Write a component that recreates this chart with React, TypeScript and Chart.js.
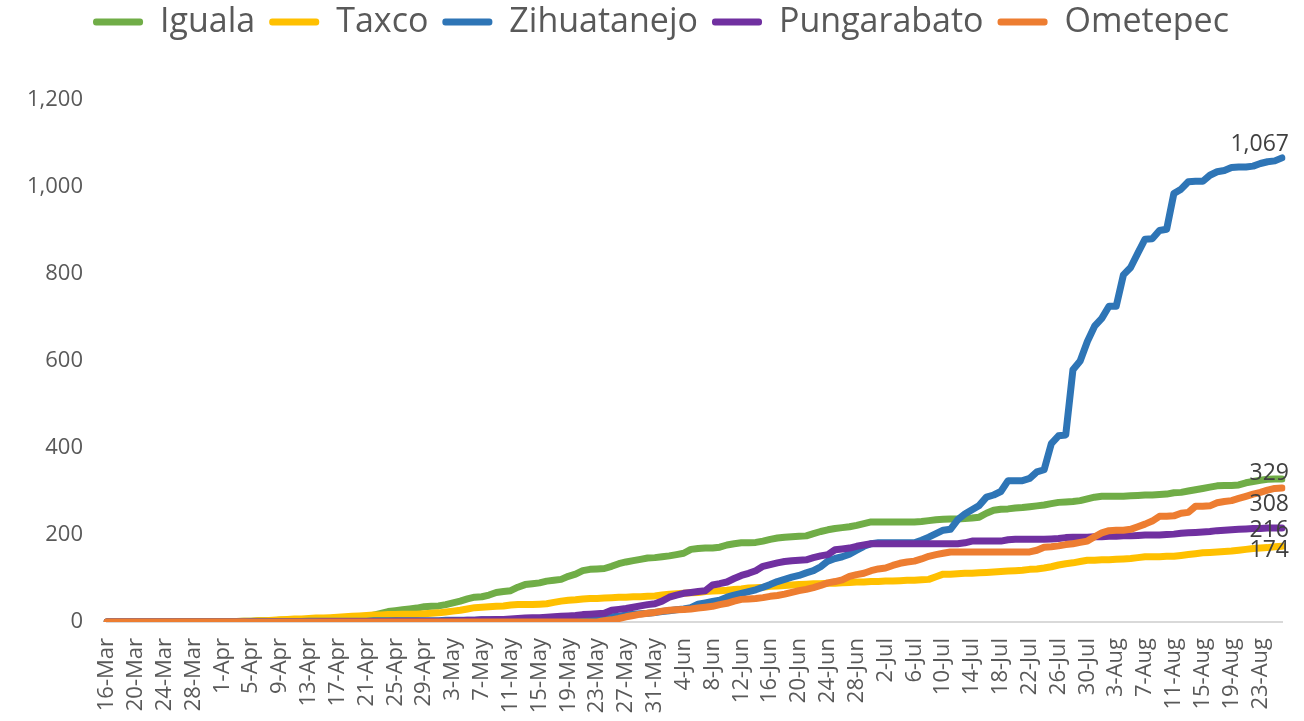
import React, { useEffect, useRef } from "react";
import { Chart, registerables } from "chart.js";

Chart.register(...registerables);

const dates = [
  "16-Mar","17-Mar","18-Mar","19-Mar","20-Mar","21-Mar","22-Mar","23-Mar","24-Mar","25-Mar","26-Mar","27-Mar","28-Mar","29-Mar","30-Mar","31-Mar",
  "1-Apr","2-Apr","3-Apr","4-Apr","5-Apr","6-Apr","7-Apr","8-Apr","9-Apr","10-Apr","11-Apr","12-Apr","13-Apr","14-Apr","15-Apr","16-Apr","17-Apr","18-Apr","19-Apr","20-Apr","21-Apr","22-Apr","23-Apr","24-Apr","25-Apr","26-Apr","27-Apr","28-Apr","29-Apr","30-Apr",
  "1-May","2-May","3-May","4-May","5-May","6-May","7-May","8-May","9-May","10-May","11-May","12-May","13-May","14-May","15-May","16-May","17-May","18-May","19-May","20-May","21-May","22-May","23-May","24-May","25-May","26-May","27-May","28-May","29-May","30-May","31-May",
  "1-Jun","2-Jun","3-Jun","4-Jun","5-Jun","6-Jun","7-Jun","8-Jun","9-Jun","10-Jun","11-Jun","12-Jun","13-Jun","14-Jun","15-Jun","16-Jun","17-Jun","18-Jun","19-Jun","20-Jun","21-Jun","22-Jun","23-Jun","24-Jun","25-Jun","26-Jun","27-Jun","28-Jun","29-Jun","30-Jun",
  "1-Jul","2-Jul","3-Jul","4-Jul","5-Jul","6-Jul","7-Jul","8-Jul","9-Jul","10-Jul","11-Jul","12-Jul","13-Jul","14-Jul","15-Jul","16-Jul","17-Jul","18-Jul","19-Jul","20-Jul","21-Jul","22-Jul","23-Jul","24-Jul","25-Jul","26-Jul","27-Jul","28-Jul","29-Jul","30-Jul","31-Jul",
  "1-Aug","2-Aug","3-Aug","4-Aug","5-Aug","6-Aug","7-Aug","8-Aug","9-Aug","10-Aug","11-Aug","12-Aug","13-Aug","14-Aug","15-Aug","16-Aug","17-Aug","18-Aug","19-Aug","20-Aug","21-Aug","22-Aug","23-Aug","24-Aug","25-Aug","26-Aug"
];

const iguala = [
  0,0,0,0,0,0,0,0,0,0,0,1,1,1,1,1,
  1,1,1,2,2,3,3,3,4,4,5,5,6,6,7,8,9,9,10,11,12,16,20,24,26,28,30,32,35,36,
  37,40,44,48,53,57,58,62,68,70,72,80,86,88,90,94,96,98,105,110,118,121,122,123,128,134,138,141,144,147,148,
  150,152,155,158,167,169,170,170,172,177,180,182,182,183,186,190,193,195,196,197,198,203,208,212,215,217,219,222,226,230,
  230,230,230,230,230,230,231,233,235,236,237,237,238,239,241,250,257,259,260,262,263,265,267,269,272,275,276,277,279,283,287,
  289,289,289,289,290,291,292,292,293,294,297,298,301,304,307,310,313,314,314,315,320,323,326,328,329,329
];

const taxco = [
  0,0,0,0,0,0,0,0,0,0,1,1,1,1,1,1,
  1,1,1,2,2,3,3,4,5,6,7,7,8,9,9,10,11,12,13,14,15,16,16,17,17,18,18,18,19,20,
  21,23,25,27,30,33,34,35,36,37,39,40,40,40,41,42,45,48,50,51,53,54,54,55,56,57,57,58,58,59,60,
  62,64,65,66,67,68,70,71,72,73,75,76,78,79,80,82,83,84,85,86,87,88,88,89,89,90,91,92,92,93,
  93,94,94,95,96,96,97,98,104,110,110,111,112,112,113,114,115,116,117,118,119,121,122,124,127,131,134,136,139,142,142,
  143,143,144,145,146,148,150,150,150,151,151,153,155,157,159,160,161,162,163,165,167,169,170,171,173,174
];

const zihuatanejo = [
  0,0,0,0,0,0,0,0,0,0,0,0,0,0,0,0,
  0,0,0,0,1,1,1,1,1,1,1,1,2,2,2,2,2,2,2,2,2,3,3,3,3,3,3,3,3,3,
  3,4,4,4,4,4,5,5,5,5,5,5,5,5,5,6,6,7,8,8,9,10,11,12,12,13,16,18,19,20,22,
  24,26,28,30,33,41,44,47,50,57,62,66,70,74,80,86,93,98,103,107,113,118,127,140,146,150,156,165,174,180,
  182,182,182,182,182,182,188,195,203,211,213,235,248,258,268,287,292,300,325,325,325,330,345,350,410,428,430,580,600,645,680,
  698,726,726,798,815,848,880,881,900,903,985,995,1012,1013,1013,1027,1035,1038,1045,1046,1046,1048,1054,1058,1060,1067
];

const pungarabato = [
  0,0,0,0,0,0,0,0,0,0,0,0,0,0,0,0,
  0,0,0,0,0,0,0,0,0,0,0,0,0,0,1,1,1,1,1,1,1,1,1,1,2,2,2,2,2,2,
  2,2,3,3,4,4,5,5,6,6,7,8,9,10,10,11,12,13,14,15,17,18,19,20,27,29,31,34,37,40,42,
  48,57,62,66,68,70,72,85,88,92,100,107,112,118,128,132,136,139,141,142,143,148,152,155,166,168,170,174,177,180,
  180,180,180,180,180,180,180,180,180,180,180,180,182,186,186,186,186,186,189,190,190,190,190,190,191,192,194,195,195,195,196,
  196,197,197,198,198,199,200,200,200,201,202,204,205,206,207,208,210,211,212,213,214,215,215,216,216,216
];

const ometepec = [
  0,0,0,0,0,0,0,0,0,0,0,0,0,0,0,0,
  0,0,0,0,0,0,0,0,0,0,0,0,0,0,0,0,0,0,0,0,0,0,0,0,0,0,0,0,0,0,
  0,0,0,0,0,0,0,0,0,0,0,0,0,0,0,0,0,0,0,0,0,0,0,3,5,8,12,15,18,20,22,
  25,27,28,29,30,32,34,36,40,43,48,52,53,54,56,59,61,64,68,72,75,79,84,90,93,97,105,109,112,118,
  122,124,130,135,138,140,145,151,155,158,161,161,161,161,161,161,161,161,161,161,161,161,165,172,173,175,178,180,183,186,196,
  205,210,211,211,213,219,225,232,243,243,244,250,252,266,266,267,274,277,279,284,289,294,298,303,307,308
];

const seriesNames = ["Iguala", "Taxco", "Zihuatanejo", "Pungarabato", "Ometepec"];
const seriesColors = ["#70AD47", "#FFC000", "#2E75B6", "#7030A0", "#ED7D31"];
const seriesData = [iguala, taxco, zihuatanejo, pungarabato, ometepec];
const yTicks = { min: 0, max: 1200, step: 200 };

const FONT = "'Open Sans', 'Noto Sans', sans-serif";

const legendSpace = {
  id: "legendSpace",
  beforeInit(chart: any) {
    const lg = chart.legend;
    if (!lg) return;
    const fit = lg.fit;
    lg.fit = function () {
      fit.call(this);
      this.height += 51;
    };
  },
  afterLayout(chart: any) {
    if (chart.legend) chart.legend.left += 40;
  },
};

const endLabels = {
  id: "endLabels",
  afterDatasetsDraw(chart: any) {
    const ctx = chart.ctx;
    ctx.save();
    ctx.font = `23px ${FONT}`;
    ctx.fillStyle = "#404040";
    ctx.textAlign = "right";
    ctx.textBaseline = "middle";
    const offsets = [-5, 4, -13, 2, 16];
    chart.data.datasets.forEach((ds: any, i: number) => {
      const meta = chart.getDatasetMeta(i);
      const last = meta.data[meta.data.length - 1];
      if (!last) return;
      const v = ds.data[ds.data.length - 1];
      ctx.fillText(v.toLocaleString("en-US"), last.x + 7, last.y + offsets[i]);
    });
    ctx.restore();
  },
};

export default function App() {
  const ref = useRef<HTMLCanvasElement>(null);
  useEffect(() => {
    document.body.style.margin = "0";
    const canvas = ref.current!;
    const chart = new Chart(canvas, {
      type: "line",
      data: {
        labels: dates,
        datasets: seriesData.map((d, i) => ({
          label: seriesNames[i],
          data: d,
          borderColor: seriesColors[i],
          backgroundColor: seriesColors[i],
          borderWidth: 7,
          pointRadius: 0,
          pointHoverRadius: 0,
          tension: 0,
          borderJoinStyle: "round" as const,
          borderCapStyle: "round" as const,
          order: 5 - i,
        })),
      },
      options: {
        responsive: false,
        animation: false,
        devicePixelRatio: 1,
        layout: { padding: { left: 0, right: 22, top: -9, bottom: 0 } },
        plugins: {
          legend: {
            position: "top",
            labels: {
              boxWidth: 50,
              boxHeight: 7,
              useBorderRadius: true,
              borderRadius: 3,
              color: "#595959",
              font: { family: FONT, size: 34 },
              padding: 14,
              generateLabels: (chart: any) =>
                chart.data.datasets.map((ds: any, i: number) => ({
                  text: ds.label,
                  fillStyle: ds.borderColor,
                  strokeStyle: ds.borderColor,
                  lineWidth: 0,
                  fontColor: "#595959",
                  datasetIndex: i,
                  hidden: false,
                  borderRadius: 3,
                })),
            },
          },
          tooltip: { enabled: false },
        },
        scales: {
          x: {
            grid: { display: false },
            border: { display: true, color: "#D9D9D9", width: 2 },
            ticks: {
              autoSkip: false,
              maxRotation: 90,
              minRotation: 90,
              padding: 8,
              color: "#595959",
              font: { family: FONT, size: 22 },
              callback: (_v: any, idx: number) => (idx % 4 === 0 ? dates[idx] : ""),
            },
            afterFit: (s: any) => { s.height = 99; s.paddingRight = 0; s.paddingLeft = 0; },
          },
          y: {
            min: yTicks.min,
            max: yTicks.max,
            grid: { display: false },
            border: { display: false },
            ticks: {
              stepSize: yTicks.step,
              padding: 16,
              color: "#595959",
              font: { family: FONT, size: 22 },
              callback: (v: any) => Number(v).toLocaleString("en-US"),
            },
            afterFit: (s: any) => { s.width = 107; },
          },
        },
      },
      plugins: [legendSpace, endLabels],
    });
    return () => chart.destroy();
  }, []);
  return <canvas ref={ref} width={1304} height={721} style={{ display: "block", width: 1304, height: 721 }} />;
}
